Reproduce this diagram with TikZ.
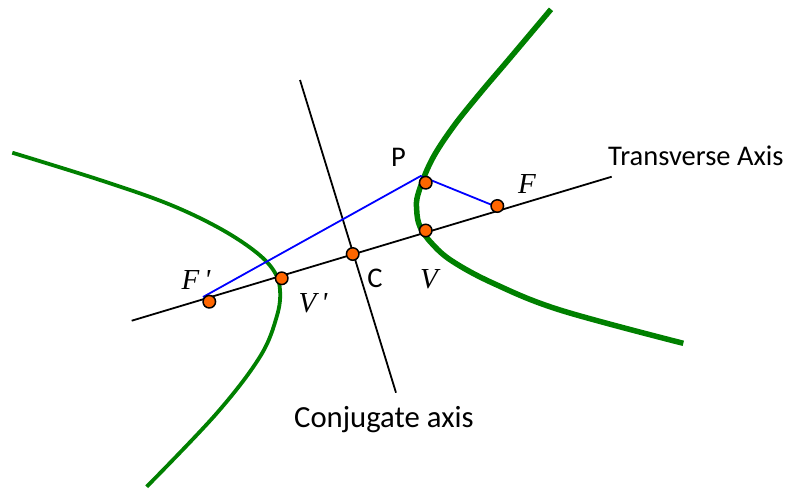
\documentclass[tikz,border=0pt]{standalone}
\usepackage{fontspec}
\newfontfamily\calib{Carlito}
\newfontfamily\tms{Liberation Serif}
\begin{document}
\begin{tikzpicture}[x=1pt,y=-1pt,
  axisline/.style={black,line width=1.8pt},
  focal/.style={blue,line width=1.8pt,line join=round},
  branch/.style={green!50!black,line cap=butt},
  dotpt/.style={circle,draw=black,fill=orange1,line width=1.5pt,minimum size=12.5pt,inner sep=0pt},
  sanslbl/.style={inner sep=0pt,font=\calib\fontsize{28.5}{32}\selectfont},
  itlbl/.style={inner sep=0pt,anchor=base,font=\tms\itshape\fontsize{29}{32}\selectfont}]
\definecolor{orange1}{RGB}{255,102,0}
\useasboundingbox (0,0) rectangle (797,488);
% axes
\coordinate (TL) at (131.7,320.7);
\coordinate (TR) at (611.7,176.7);
\coordinate (CT) at (300,80);
\coordinate (CB) at (396,392.7);
\draw[axisline] (TL) -- (TR);
\draw[axisline] (CT) -- (CB);
% hyperbola branches
\draw[branch,line width=5.5pt] plot[smooth,tension=0.6] coordinates {
 (551,9.3) (508.3,60) (480,93.3) (453.3,126.7) (431.7,160) (418.3,193.3)
 (416.7,210) (420,226.7) (431.7,243.3) (452,261) (493.3,283.3) (560,310) (683.3,343.3)};
\draw[branch,line width=3.8pt] plot[smooth,tension=0.6] coordinates {
 (12.3,152.7) (100,180) (166.7,203.3) (216.7,226.7) (253.3,250) (273.3,270)
 (280,290) (276.7,316.7) (260,356.7) (216.7,413.3) (146.7,486.7)};
% focal radii
\coordinate (Fs) at (203,297);
\coordinate (Pv) at (420.7,176);
\coordinate (Fe) at (497,207);
\draw[focal] (Fs) -- (Pv) -- (Fe);
% dots
\node[dotpt] (dFp) at (209.3,301.7) {};
\node[dotpt] (dVp) at (281.7,278.3) {};
\node[dotpt] (dC) at (352.7,254) {};
\node[dotpt] (dV) at (425.7,230.5) {};
\node[dotpt] (dF) at (497.3,206) {};
\node[dotpt] (dP) at (425.7,182.7) {};
% labels
\node[sanslbl,anchor=base] (lP) at (398.5,166) {P};
\node[sanslbl,anchor=base] (lC) at (375,287) {C};
\node[sanslbl,anchor=base west] (lT) at (608,165) {Transverse Axis};
\node[sanslbl,anchor=base west,font=\calib\fontsize{30.7}{34}\selectfont] (lCa) at (294,427) {Conjugate axis};
\node[itlbl] (lF) at (527,193) {F};
\node[itlbl] (lV) at (429,288) {V};
\node[itlbl] (lFp) at (196,289) {F\,\textquotesingle};
\node[itlbl] (lVp) at (313,312) {V\,\textquotesingle};
\end{tikzpicture}
\end{document}
